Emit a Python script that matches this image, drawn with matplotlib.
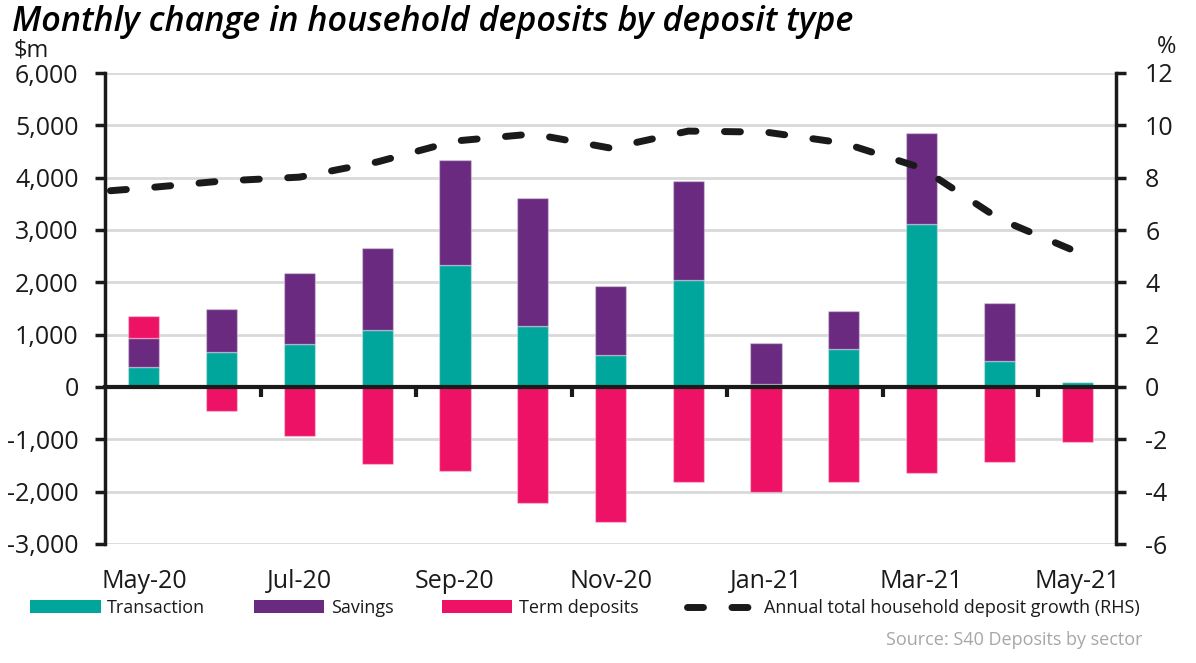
import numpy as np
import matplotlib
matplotlib.use("Agg")
import matplotlib.pyplot as plt
from matplotlib.lines import Line2D
from matplotlib.patches import Patch
from matplotlib.ticker import FuncFormatter, FixedLocator

# ---------------- data ----------------
months = ["May-20", "Jun-20", "Jul-20", "Aug-20", "Sep-20", "Oct-20", "Nov-20",
          "Dec-20", "Jan-21", "Feb-21", "Mar-21", "Apr-21", "May-21"]
transaction = [380, 675, 820, 1090, 2330, 1170, 610, 2040, 57, 733, 3109, 500, 95]
savings = [556, 815, 1360, 1570, 2010, 2440, 1320, 1900, 778, 717, 1739, 1100, 0]
term_deposits = [421, -459, -940, -1470, -1600, -2220, -2580, -1820, -2000, -1810,
                 -1650, -1440, -1050]
growth_months = ["Apr-20"] + months
growth = [7.37, 7.60, 7.87, 8.02, 8.60, 9.40, 9.67, 9.13, 9.78, 9.74, 9.32, 8.37,
          6.42, 5.16]
left_ticks = [-3000, -2000, -1000, 0, 1000, 2000, 3000, 4000, 5000, 6000]
right_ticks = [-6, -4, -2, 0, 2, 4, 6, 8, 10, 12]
label_months = months[::2]

# ---------------- style ----------------
plt.rcParams['font.family'] = ['Open Sans', 'DejaVu Sans']
plt.rcParams['axes.unicode_minus'] = False
C_TRANS = "#00A59B"
C_SAV = "#6A2A7F"
C_TERM = "#EE1267"
C_TXT = "#1A1A1A"
C_GRID = "#D9D9D9"

fig = plt.figure(figsize=(11.96, 6.63), dpi=100)
ax = fig.add_axes([105/1196, 1-544/663, (1116-105)/1196, (544-73)/663])

x = np.arange(len(months))
pos_bottom = np.zeros(len(months))
neg_bottom = np.zeros(len(months))
for vals, col in [(transaction, C_TRANS), (savings, C_SAV), (term_deposits, C_TERM)]:
    v = np.array(vals, dtype=float)
    bottom = np.where(v >= 0, pos_bottom, neg_bottom)
    ax.bar(x, v, width=0.4, bottom=bottom, color=col, zorder=3,
           edgecolor=(1, 1, 1, 0.35), linewidth=1)
    pos_bottom += np.where(v >= 0, v, 0)
    neg_bottom += np.where(v < 0, v, 0)

ax.set_xlim(-0.5, len(months) - 0.5)
ax.set_ylim(-3000, 6000)
ax.yaxis.set_major_locator(FixedLocator(left_ticks))
ax.yaxis.set_major_formatter(FuncFormatter(lambda v, p: f"{int(v):,}"))
ax.grid(axis='y', color=C_GRID, linewidth=2, zorder=0)
ax.set_axisbelow(True)

for s in ['top', 'right']:
    ax.spines[s].set_visible(False)
ax.spines['left'].set_linewidth(2.5)
ax.spines['left'].set_color(C_TXT)
ax.spines['bottom'].set_position(('data', 0))
ax.spines['bottom'].set_linewidth(3)
ax.spines['bottom'].set_color(C_TXT)
ax.spines['bottom'].set_zorder(5)

ax.tick_params(axis='y', direction='out', length=7, width=2.5, color=C_TXT,
               labelsize=18, labelcolor=C_TXT, pad=12)
ax.xaxis.set_major_locator(FixedLocator(np.arange(1.5, len(months) - 1, 2)))
ax.tick_params(axis='x', direction='out', length=7, width=3, color=C_TXT,
               labelbottom=False)

sec = ax.secondary_xaxis(0.0)
sec.set_xticks(x[::2])
sec.set_xticklabels(label_months)
sec.tick_params(length=0, labelsize=18, labelcolor=C_TXT, pad=18)
sec.spines['bottom'].set_visible(False)

# ---------------- line on secondary axis ----------------
ax2 = ax.twinx()
ax2.set_ylim(-6, 12)
ax2.yaxis.set_major_locator(FixedLocator(right_ticks))
ax2.yaxis.set_major_formatter(FuncFormatter(lambda v, p: f"{int(v)}"))
gx = np.arange(-1, len(months))
ax2.plot(gx, growth, color=C_TXT, linewidth=5, linestyle=(0, (2.3, 4.1)),
         dash_capstyle='round', zorder=6)
for s in ['top', 'left', 'bottom']:
    ax2.spines[s].set_visible(False)
ax2.spines['right'].set_linewidth(2.5)
ax2.spines['right'].set_color(C_TXT)
ax2.tick_params(axis='y', direction='out', length=7, width=2.5, color=C_TXT,
                labelsize=18, labelcolor=C_TXT, pad=14)

# ---------------- texts ----------------
fig.text(12/1196, 1-22/663, "Monthly change in household deposits by deposit type",
         fontsize=24.6, style='italic', fontweight='semibold', color='black',
         va='center', ha='left')
fig.text(14/1196, 1-50/663, "$m", fontsize=17, color=C_TXT, va='center', ha='left')
fig.text(1167/1196, 1-47/663, "%", fontsize=17, color=C_TXT, va='center', ha='center')
fig.text(1143/1196, 1-640/663, "Source: S40 Deposits by sector", fontsize=13,
         color="#A6A6A6", va='center', ha='right')

handles = [Patch(facecolor=C_TRANS), Patch(facecolor=C_SAV), Patch(facecolor=C_TERM),
           Line2D([0], [0], color=C_TXT, linewidth=5, linestyle=(0, (2.3, 4.1)),
                  dash_capstyle='round')]
labels = ["Transaction", "Savings", "Term deposits",
          "Annual total household deposit growth (RHS)"]
fig.legend(handles, labels, loc='center left', bbox_to_anchor=(14/1196, 1-608/663),
           ncol=4, frameon=False, fontsize=13, handlelength=3.9, handleheight=0.7,
           handletextpad=0.35, columnspacing=2.7, labelcolor=C_TXT)

fig.savefig("out.png", dpi=100)
